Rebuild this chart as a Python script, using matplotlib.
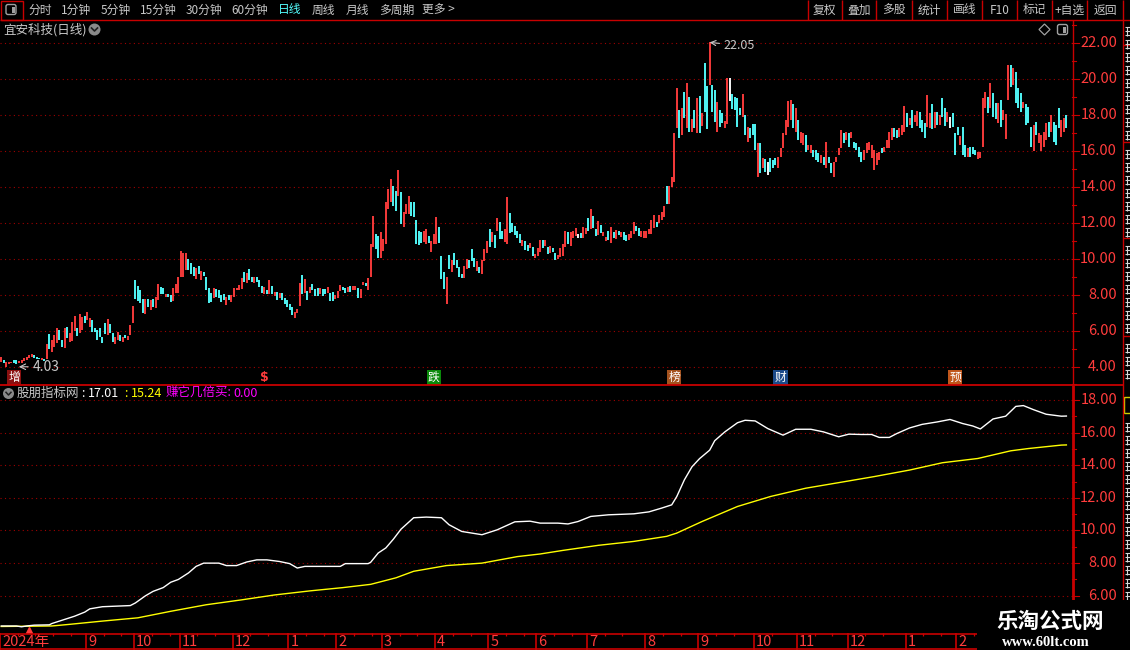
import matplotlib
matplotlib.use("Agg")
import matplotlib.pyplot as plt
from matplotlib import transforms
from matplotlib.patches import Rectangle, FancyBboxPatch, Circle, Polygon

plt.rcParams['font.family'] = ['Noto Sans CJK SC', 'DejaVu Sans']
NUM_FONT = ['Liberation Sans Narrow', 'Noto Sans CJK SC', 'DejaVu Sans']

W, H = 1130, 650
BAR_PX = 2.53  # pixels per trading day

RED = '#ff3c3c'
CYAN = '#54ffff'
AXIS = '#c80000'
GRID = '#a00000'
GRAY = '#c8c8c8'

# ---------------- data ----------------
# daily bars: visible low / high of each bar, sign = up(1) / down(-1) / flat(0)
bar_low = [
    4.30, 4.22, 4.03, 4.19, 4.22, 4.22, 4.20, 4.25, 4.22, 4.35,
    4.41, 4.50, 4.56, 4.50, 4.44, 4.44, 4.41, 4.35, 4.46, 5.00,
    4.87, 5.15, 5.33, 5.52, 5.11, 5.10, 5.61, 5.43, 5.46, 6.04,
    5.76, 5.90, 6.07, 6.48, 6.63, 6.26, 5.94, 5.98, 5.52, 5.70,
    5.37, 5.85, 5.80, 5.93, 5.43, 5.28, 5.52, 5.48, 5.39, 5.61,
    5.52, 5.80, 6.48, 7.80, 7.70, 7.60, 7.00, 6.94, 7.37, 7.20,
    7.37, 7.30, 7.74, 8.07, 8.07, 7.89, 7.91, 7.63, 7.70, 8.15,
    8.15, 9.00, 9.00, 9.40, 9.40, 9.20, 9.07, 8.93, 9.20, 8.87,
    9.07, 8.30, 7.55, 7.63, 7.85, 7.91, 7.85, 7.65, 7.74, 7.48,
    7.76, 7.63, 7.91, 8.30, 8.28, 8.37, 8.74, 8.70, 8.83, 8.74,
    8.70, 8.74, 8.46, 8.11, 8.07, 8.07, 8.07, 8.07, 7.98, 7.74,
    7.87, 7.74, 7.50, 7.37, 7.20, 6.91, 6.76, 7.00, 7.43, 8.07,
    8.15, 7.74, 8.11, 8.30, 7.98, 7.94, 8.07, 7.98, 8.07, 8.11,
    7.70, 7.67, 7.80, 7.85, 8.24, 8.28, 8.15, 8.20, 8.20, 8.28,
    8.28, 7.87, 7.87, 8.59, 8.50, 8.30, 9.00, 10.70, 10.60, 10.10,
    10.10, 10.46, 10.87, 12.80, 13.20, 12.96, 12.70, 13.50, 11.95, 11.80,
    12.50, 12.50, 12.40, 12.35, 10.87, 10.80, 10.93, 10.98, 10.83, 10.93,
    10.40, 10.87, 10.87, 10.93, 8.90, 8.33, 7.50, 9.44, 9.31, 9.69,
    9.50, 9.00, 8.94, 8.94, 9.44, 9.54, 9.90, 9.57, 9.35, 9.26,
    9.17, 9.90, 10.37, 10.70, 10.98, 10.65, 11.57, 11.11, 11.11, 10.96,
    10.87, 11.48, 11.54, 11.35, 11.17, 10.93, 10.74, 10.50, 10.46, 10.61,
    10.19, 10.10, 10.19, 10.43, 10.61, 10.74, 10.28, 10.35, 10.43, 9.96,
    10.04, 10.13, 10.20, 10.70, 10.87, 10.74, 11.17, 11.30, 11.17, 11.17,
    11.20, 11.43, 11.57, 11.70, 11.76, 11.30, 11.35, 11.48, 11.30, 11.00,
    11.07, 10.93, 11.20, 11.15, 11.35, 11.24, 11.07, 11.00, 11.07, 11.17,
    11.43, 11.57, 11.30, 11.26, 11.17, 11.20, 11.43, 11.43, 11.76, 11.81,
    12.04, 12.17, 12.35, 13.10, 13.10, 14.00, 14.30, 17.30, 16.76, 16.90,
    17.83, 17.30, 17.10, 17.10, 17.28, 17.00, 17.00, 17.43, 18.20, 17.24,
    19.70, 18.17, 17.65, 17.10, 17.37, 17.56, 17.28, 17.50, 18.80, 18.35,
    18.30, 17.37, 18.00, 17.93, 16.90, 16.54, 16.72, 16.90, 16.07, 14.60,
    14.78, 15.06, 14.87, 14.69, 14.87, 15.06, 15.24, 15.06, 15.70, 16.17,
    16.90, 17.37, 17.74, 17.28, 17.10, 16.63, 16.44, 16.35, 15.94, 16.07,
    15.89, 15.70, 15.52, 15.43, 15.33, 15.24, 15.05, 15.33, 14.78, 14.55,
    15.39, 15.80, 16.17, 16.44, 16.63, 16.26, 16.72, 16.17, 16.07, 15.70,
    15.39, 15.52, 15.89, 16.07, 15.61, 14.96, 15.24, 15.52, 15.89, 15.98,
    16.20, 16.17, 16.63, 16.81, 16.72, 16.81, 16.90, 17.10, 17.37, 17.46,
    17.28, 17.65, 17.43, 17.28, 17.09, 16.76, 17.37, 17.28, 17.24, 17.28,
    17.46, 17.46, 17.93, 17.43, 17.65, 17.28, 17.37, 15.80, 16.91, 16.35,
    15.80, 15.70, 15.70, 15.70, 15.83, 15.80, 15.60, 15.63, 16.26, 18.40,
    18.11, 18.40, 17.93, 17.80, 17.56, 17.37, 17.74, 16.70, 18.85, 19.60,
    19.69, 18.67, 18.40, 18.20, 18.39, 17.46, 17.56, 16.26, 16.00, 16.91,
    16.44, 16.00, 16.26, 16.63, 16.81, 17.09, 16.54, 16.35, 17.30, 16.81,
    17.09, 17.28,
]
bar_high = [
    4.60, 4.40, 4.28, 4.31, 4.31, 4.41, 4.41, 4.35, 4.41, 4.50,
    4.59, 4.69, 4.74, 4.69, 4.59, 4.54, 4.50, 4.46, 5.30, 5.85,
    5.52, 5.80, 6.17, 6.07, 5.52, 6.17, 6.26, 5.89, 6.54, 6.85,
    6.17, 6.96, 6.78, 6.85, 7.09, 6.74, 6.63, 6.17, 6.07, 6.17,
    5.70, 6.44, 6.67, 6.41, 5.89, 5.70, 5.94, 5.80, 5.70, 5.80,
    5.76, 6.35, 7.40, 8.85, 8.54, 8.30, 7.78, 7.78, 7.78, 7.74,
    7.78, 7.93, 8.63, 8.48, 8.43, 8.07, 8.10, 8.02, 8.40, 8.63,
    9.00, 10.48, 10.37, 10.37, 10.02, 9.80, 9.57, 9.50, 9.63, 9.33,
    9.28, 9.00, 8.40, 8.15, 8.39, 8.33, 8.30, 8.00, 8.07, 7.93,
    8.00, 8.00, 8.39, 8.43, 8.57, 8.94, 9.30, 9.24, 9.44, 9.00,
    9.00, 9.04, 8.87, 8.54, 8.48, 8.30, 8.83, 8.54, 8.17, 8.17,
    8.11, 8.15, 7.87, 7.74, 7.52, 7.37, 7.09, 7.22, 8.67, 9.15,
    8.89, 8.22, 8.48, 8.63, 8.33, 8.39, 8.39, 8.33, 8.33, 8.48,
    8.11, 8.17, 8.00, 8.26, 8.56, 8.48, 8.39, 8.48, 8.52, 8.52,
    8.52, 8.39, 8.35, 8.76, 8.70, 8.95, 10.85, 12.40, 11.40, 11.30,
    11.54, 11.15, 13.20, 13.93, 14.44, 14.07, 13.80, 14.96, 13.74, 12.63,
    13.10, 13.50, 13.20, 13.19, 12.20, 11.60, 11.54, 11.57, 11.67, 11.30,
    11.00, 11.43, 12.35, 11.80, 10.20, 9.30, 9.00, 10.24, 9.98, 10.35,
    9.94, 9.55, 9.20, 9.63, 10.00, 9.94, 10.55, 10.09, 9.90, 9.57,
    9.96, 10.60, 11.02, 11.67, 11.52, 11.35, 12.28, 12.07, 11.57, 11.70,
    13.46, 12.55, 12.00, 11.85, 11.57, 11.39, 11.07, 11.00, 10.80, 10.89,
    10.69, 10.30, 10.61, 11.07, 11.07, 11.07, 10.69, 10.74, 10.65, 10.33,
    10.24, 10.63, 10.87, 11.57, 11.54, 11.52, 11.57, 11.76, 11.43, 11.44,
    11.80, 11.76, 12.30, 12.80, 12.41, 11.70, 12.13, 11.90, 11.54, 11.24,
    11.60, 11.80, 11.54, 11.63, 11.57, 11.52, 11.52, 11.35, 11.43, 11.60,
    12.07, 11.85, 11.76, 11.57, 11.57, 11.57, 11.67, 12.17, 12.46, 12.07,
    12.46, 12.65, 12.96, 14.10, 14.07, 14.60, 17.00, 19.54, 18.30, 18.40,
    19.30, 19.80, 19.00, 17.80, 18.30, 18.94, 19.10, 18.15, 20.90, 19.65,
    22.05, 19.70, 19.40, 18.76, 18.30, 18.11, 17.69, 20.06, 20.06, 19.20,
    19.04, 18.94, 18.39, 19.17, 18.00, 17.37, 17.31, 17.50, 17.50, 16.44,
    16.44, 15.61, 15.60, 15.43, 15.61, 15.52, 15.61, 15.70, 16.17, 17.00,
    17.74, 18.80, 18.85, 18.61, 18.39, 17.74, 17.09, 17.00, 16.90, 16.35,
    16.35, 16.07, 16.07, 15.89, 15.80, 15.70, 16.50, 15.70, 15.33, 15.42,
    15.70, 16.17, 17.20, 17.00, 17.06, 17.00, 17.09, 16.54, 16.44, 16.26,
    15.98, 16.07, 16.44, 16.54, 16.35, 16.07, 15.89, 15.98, 16.17, 16.26,
    16.63, 17.09, 17.28, 17.28, 17.19, 17.28, 17.46, 18.50, 18.11, 17.83,
    18.30, 18.00, 18.24, 18.20, 17.74, 17.56, 19.13, 18.15, 18.61, 18.20,
    18.20, 18.02, 18.94, 18.39, 18.20, 17.93, 18.15, 17.00, 17.37, 16.87,
    17.37, 16.35, 16.17, 16.26, 16.26, 16.07, 15.96, 15.96, 18.94, 19.30,
    19.04, 19.80, 19.22, 18.67, 18.67, 18.85, 18.30, 18.10, 20.80, 20.80,
    20.61, 20.43, 19.50, 19.22, 18.76, 18.61, 18.48, 17.37, 17.46, 17.65,
    17.00, 16.90, 17.09, 17.56, 17.65, 18.02, 17.65, 17.46, 18.40, 17.74,
    17.83, 18.02,
]
bar_sign = [
    1, -1, 1, 1, 1, -1, -1, 1, 1, 1,
    1, 1, 1, -1, -1, -1, 1, -1, 1, -1,
    1, 1, 1, -1, -1, 1, -1, 1, 1, 1,
    -1, 1, 1, -1, 1, 1, -1, -1, -1, -1,
    -1, -1, 1, -1, -1, 1, 1, -1, 1, -1,
    1, 1, 1, -1, -1, -1, -1, 1, -1, 1,
    -1, 1, 1, -1, -1, 1, -1, -1, 1, 1,
    1, 1, 1, 1, -1, -1, -1, 1, -1, 1,
    -1, -1, -1, -1, 1, -1, -1, -1, -1, 1,
    -1, 1, 1, 1, 1, 1, -1, 1, -1, -1,
    1, -1, -1, -1, 1, -1, 1, -1, 1, -1,
    1, -1, -1, -1, -1, -1, 1, 1, 1, -1,
    1, -1, 1, -1, -1, -1, 1, -1, -1, 1,
    -1, -1, 1, 1, 1, -1, -1, 1, -1, 1,
    1, -1, 1, 1, -1, 1, 1, 1, -1, -1,
    1, 1, 1, 1, 1, -1, -1, 1, -1, 1,
    1, 1, -1, -1, -1, -1, -1, 1, 1, -1,
    1, 1, 1, -1, -1, -1, 1, -1, 1, -1,
    -1, -1, -1, 1, 1, -1, -1, -1, 1, -1,
    1, 1, 1, -1, 1, -1, 1, -1, -1, 1,
    1, -1, -1, -1, -1, -1, 1, -1, -1, 1,
    -1, 1, 1, 1, -1, 1, -1, 1, -1, -1,
    1, 1, 1, 1, -1, 1, 1, 1, 0, -1,
    1, 1, -1, 1, -1, -1, 1, -1, 1, 1,
    -1, 1, -1, 1, -1, 1, -1, -1, 1, 1,
    1, -1, -1, 1, 1, 1, 1, 1, 1, -1,
    1, 1, 1, -1, 1, 1, 1, 1, -1, 1,
    -1, 1, -1, 1, -1, 1, -1, 1, -1, -1,
    1, -1, -1, 1, -1, -1, 1, 1, 0, -1,
    -1, -1, -1, 1, -1, 1, -1, -1, -1, 1,
    -1, 1, -1, 0, -1, -1, -1, 1, 1, 1,
    1, 1, 1, -1, 1, -1, 1, 1, -1, 1,
    1, -1, -1, -1, 1, -1, 1, -1, -1, 1,
    1, 1, 1, -1, 1, -1, 1, -1, -1, -1,
    -1, 1, 1, 1, 1, 1, 1, 1, -1, 1,
    1, 1, 1, -1, -1, 1, 1, 1, -1, 1,
    -1, 1, 1, -1, -1, -1, 1, 1, -1, 1,
    -1, 1, -1, -1, 1, 0, -1, -1, -1, 1,
    -1, -1, 1, -1, -1, -1, 1, 1, 1, 1,
    -1, 1, -1, -1, 1, -1, 1, 1, 1, -1,
    1, -1, -1, -1, 1, -1, -1, -1, 1, -1,
    1, 1, 1, 1, -1, 1, -1, -1, -1, 1,
    1, -1,
]

# month boundaries (bar index of first trading day) and their labels
month_starts = [34, 53, 71, 92, 114, 133, 151, 172, 193, 212, 232, 255,
                276, 298, 315, 335, 358, 378]
month_labels = ['9', '10', '11', '12', '1', '2', '3', '4', '5', '6', '7', '8',
                '9', '10', '11', '12', '1', '2']
first_label = '2024年'

# indicator panel: white line (股朋指标网) and yellow line, sampled by bar index
white_idx = [0, 6, 8, 10, 13, 19, 20, 24, 29, 33, 35, 40, 51, 53, 57, 60, 64, 67, 70, 74,
             77, 80, 86, 89, 93, 97, 101, 105, 110, 114, 117, 120, 134, 136, 145, 146, 149, 152, 155, 158,
             163, 168, 174, 177, 182, 190, 196, 203, 209, 213, 220, 224, 228, 233, 240, 250, 256, 261, 265, 267,
             270, 273, 276, 280, 282, 286, 291, 294, 298, 303, 309, 314, 320, 325, 331, 335, 340, 344, 347, 351,
             354, 359, 364, 370, 375, 380, 384, 387, 392, 397, 401, 404, 408, 413, 419, 421]
white_vals = [4.15, 4.15, 4.10, 4.15, 4.20, 4.22, 4.30, 4.50, 4.75, 5.00, 5.20, 5.33, 5.40, 5.56, 6.00, 6.27, 6.50, 6.83, 7.00, 7.40,
              7.80, 8.00, 8.00, 7.85, 7.85, 8.07, 8.20, 8.20, 8.10, 7.97, 7.70, 7.80, 7.80, 7.97, 7.97, 8.05, 8.62, 8.93, 9.47, 10.08,
              10.78, 10.82, 10.78, 10.35, 9.94, 9.74, 10.04, 10.53, 10.57, 10.45, 10.45, 10.40, 10.55, 10.86, 10.96, 11.02, 11.14, 11.37, 11.57, 12.08,
              13.10, 13.90, 14.40, 14.92, 15.50, 16.04, 16.60, 16.75, 16.71, 16.24, 15.84, 16.20, 16.20, 16.04, 15.74, 15.90, 15.88, 15.88, 15.70, 15.70,
              15.94, 16.28, 16.50, 16.65, 16.80, 16.55, 16.40, 16.22, 16.83, 17.00, 17.60, 17.65, 17.40, 17.12, 17.00, 17.01]
yellow_idx = [0, 20, 27, 40, 54, 67, 81, 95, 108, 122, 135, 146, 156, 163, 176, 190, 204, 213,
              222, 236, 250, 263, 267, 277, 291, 304, 318, 331, 345, 359, 372, 386, 399, 406, 419, 421]
yellow_vals = [4.12, 4.15, 4.25, 4.45, 4.65, 5.05, 5.45, 5.75, 6.05, 6.30, 6.50, 6.70, 7.10, 7.50, 7.85, 8.00, 8.40, 8.56,
               8.78, 9.09, 9.33, 9.64, 9.84, 10.55, 11.47, 12.08, 12.59, 12.93, 13.30, 13.70, 14.15, 14.41, 14.88, 15.02, 15.23, 15.24]

# event tags under the price chart
event_idx = [5, 104, 171, 266, 308, 377]
event_text = ['增', '$', '跌', '榜', '财', '预']
event_bg = ['#8a1010', None, '#0a8a0a', '#a4521e', '#1c4a8a', '#c0561b']
signal_idx = [11]

price_ticks = [4, 6, 8, 10, 12, 14, 16, 18, 20, 22]
ind_ticks = [6, 8, 10, 12, 14, 16, 18]

toolbar_left = ['分时', '1分钟', '5分钟', '15分钟', '30分钟', '60分钟', '日线', '周线', '月线', '多周期', '更多 >']
toolbar_right = ['复权', '叠加', '多股', '统计', '画线', 'F10', '标记', '+自选', '返回']

# ---------------- figure ----------------
fig = plt.figure(figsize=(W / 100, H / 100), dpi=100, facecolor='black')


def px_axes(x0, y0, x1, y1):
    a = fig.add_axes([x0 / W, 1 - y1 / H, (x1 - x0) / W, (y1 - y0) / H])
    a.set_facecolor('black')
    a.axis('off')
    return a


xlim = (-0.5, -0.5 + 1072 / BAR_PX)
ax_p = px_axes(0, 21, 1072, 385)
ax_i = px_axes(0, 386, 1072, 633)
ax_t = px_axes(0, 633, 1072, 650)
for a in (ax_p, ax_i, ax_t):
    a.set_xlim(*xlim)
ax_p.set_ylim(3.017, 23.239)
ax_i.set_ylim(3.72, 18.85)
ax_t.set_ylim(1, 0)

# price panel
ax_p.hlines(price_ticks, xlim[0], xlim[1], colors=GRID, linestyles=(0, (1, 3)), lw=0.8)
idx = list(range(len(bar_low)))
colors = [RED if s > 0 else (CYAN if s < 0 else 'white') for s in bar_sign]
ax_p.vlines(idx, bar_low, bar_high, colors=colors, lw=1.35)

hi_i = bar_high.index(max(bar_high))
lo_i = bar_low.index(min(bar_low))
ax_p.annotate(f'{bar_high[hi_i]:.2f}', xy=(hi_i, bar_high[hi_i]), xytext=(14, -3),
              textcoords='offset pixels', color=GRAY, fontsize=9, va='center', family=NUM_FONT,
              arrowprops=dict(arrowstyle='->', color=GRAY, lw=0.8, shrinkA=1, shrinkB=0))
ax_p.annotate(f'{bar_low[lo_i]:.2f}', xy=(lo_i, bar_low[lo_i]), xytext=(26, 0),
              textcoords='offset pixels', color=GRAY, fontsize=10, va='center', family=NUM_FONT,
              arrowprops=dict(arrowstyle='->', color=GRAY, lw=0.8, shrinkA=1, shrinkB=9))

tx = ax_p.get_xaxis_transform()
for i, t, bg in zip(event_idx, event_text, event_bg):
    if bg is None:
        ax_p.text(i, 0.02, t, transform=tx, ha='center', va='center', color=RED,
                  fontsize=9, fontweight='bold', family=['DejaVu Sans'])
    else:
        ax_p.text(i, 0.02, t, transform=tx, ha='center', va='center', color='white', fontsize=8.5,
                  bbox=dict(boxstyle='square,pad=0.1', fc=bg, ec='none'))

# indicator panel
ax_i.hlines(ind_ticks, xlim[0], xlim[1], colors=GRID, linestyles=(0, (1, 3)), lw=0.8)
ax_i.plot(yellow_idx, yellow_vals, color='#ffff00', lw=1.0)
ax_i.plot(white_idx, white_vals, color='white', lw=1.0)
ax_i.plot(signal_idx, [0.012] * len(signal_idx), transform=ax_i.get_xaxis_transform(),
          marker='^', color=RED, ms=5, ls='none', clip_on=False)

# right-hand price scales
for a, ticks in ((ax_p, price_ticks), (ax_i, ind_ticks)):
    ty = a.get_yaxis_transform()
    for v in ticks:
        a.text(1117 / 1072, v, f'{v:.2f}', transform=ty, ha='right', va='center',
               color=RED, fontsize=10.5, family=NUM_FONT, clip_on=False)
        a.plot([1, 1079 / 1072], [v, v], transform=ty, color=AXIS, lw=0.8, clip_on=False)
        a.plot([1, 1076 / 1072], [v + 1, v + 1], transform=ty, color=AXIS, lw=0.8, clip_on=False)

# time axis
seps = [-0.5] + [m - 0.5 for m in month_starts]
ax_t.hlines([0.04, 0.97], xlim[0], xlim[1], colors=AXIS, lw=1.2)
ax_t.vlines(seps, 0, 1, colors=AXIS, lw=1.2)
bounds = seps + [xlim[1]]
for a0, a1 in zip(bounds[:-1], bounds[1:]):
    k = a0 + 7
    while k < a1 - 3:
        ax_t.vlines(k, 0, 0.2, colors=AXIS, lw=0.9)
        k += 7
lab_tr = transforms.offset_copy(ax_t.transData, fig=fig, x=2, y=0, units='dots')
for s, lab in zip(seps, [first_label] + month_labels):
    ax_t.text(s, 0.55, lab, transform=lab_tr, ha='left', va='center', color=RED,
              fontsize=10.5, family=NUM_FONT)

# ---------------- screen chrome (pixel coordinates) ----------------
ax_bg = fig.add_axes([0, 0, 1, 1])
ax_bg.set_xlim(0, W)
ax_bg.set_ylim(H, 0)
ax_bg.axis('off')

ax_bg.hlines(20, 0, W, colors=AXIS, lw=1.0)
ax_bg.add_patch(Rectangle((0.5, 0.5), 22, 19.5, fill=False, ec=AXIS, lw=1.0))
ax_bg.add_patch(FancyBboxPatch((6, 4.5), 10, 10, boxstyle='round,pad=0,rounding_size=2',
                               fill=False, ec='#a0a0a0', lw=1.0))
ax_bg.add_patch(Rectangle((11.5, 6.5), 3, 6, fc='#a0a0a0', ec='none'))
left_x = [28, 61, 101, 140, 186, 231, 278, 312, 346, 379, 422]
for x, t in zip(left_x, toolbar_left):
    ax_bg.text(x, 10, t, ha='left', va='center', fontsize=8.5,
               color=CYAN if t == '日线' else GRAY)
right_sep = [807.7, 841.7, 876.3, 911.7, 946.7, 981.7, 1016.7, 1051.7, 1086.7, 1123.3]
ax_bg.vlines(right_sep, 0, 20, colors=AXIS, lw=1.0)
for x0, x1, t in zip(right_sep[:-1], right_sep[1:], toolbar_right):
    ax_bg.text((x0 + x1) / 2, 10, t, ha='center', va='center', fontsize=8.5, color=GRAY)

# title row
ax_bg.text(3, 29.5, '宜安科技(日线)', ha='left', va='center', fontsize=9, color=GRAY)
ax_bg.add_patch(Circle((94.5, 29.5), 6, fc='#8a8a8a', ec='none'))
ax_bg.plot([91.5, 94.5, 97.5], [28, 31, 28], color='#202020', lw=1.2)
ax_bg.add_patch(Polygon([(1044.5, 24), (1050, 29.5), (1044.5, 35), (1039, 29.5)],
                        closed=True, fill=False, ec='#a0a0a0', lw=0.9))
ax_bg.add_patch(FancyBboxPatch((1057.5, 24.5), 10, 10, boxstyle='round,pad=0,rounding_size=2',
                               fill=False, ec='#a0a0a0', lw=1.0))
ax_bg.add_patch(Rectangle((1063, 26.5), 3, 6, fc='#a0a0a0', ec='none'))

# frame lines
ax_bg.vlines(1072.5, 20, 385, colors=AXIS, lw=1.0)
ax_bg.vlines(1073, 385, 600, colors=AXIS, lw=2.0)
ax_bg.hlines(385, 0, 1123, colors=AXIS, lw=1.3)
ax_bg.vlines(1123.3, 20, 600, colors=AXIS, lw=1.0)
ax_bg.hlines([45, 142, 238, 336], 1123, W, colors=AXIS, lw=1.0)
# cut-off tab labels at the right edge, drawn as glyph fragments
for y0, y1 in ((24, 140), (147, 236), (243, 334), (341, 382), (420, 598)):
    y = y0 + 3
    while y < y1 - 4:
        ax_bg.hlines([y, y + 4, y + 8], 1125, W, colors='#d8d8d8', lw=0.8)
        ax_bg.vlines(1127, y, y + 9, colors='#d8d8d8', lw=0.8)
        y += 13
ax_bg.add_patch(Rectangle((1124, 397), 8, 16, fill=False, ec='#d0d000', lw=1.0))

# indicator header
ax_bg.add_patch(Circle((8.5, 393.5), 5.5, fc='#8a8a8a', ec='none'))
ax_bg.plot([6, 8.5, 11], [392.3, 395, 392.3], color='#202020', lw=1.1)
ax_bg.text(17, 393.5, '股朋指标网', ha='left', va='center', fontsize=9, color=GRAY)
ax_bg.text(81, 393.5, ':', ha='left', va='center', fontsize=9, color='white')
ax_bg.text(88, 393.5, f'{white_vals[-1]:.2f}', ha='left', va='center', fontsize=9, color='white')
ax_bg.text(124, 393.5, ':', ha='left', va='center', fontsize=9, color='#ffff00')
ax_bg.text(131, 393.5, f'{yellow_vals[-1]:.2f}', ha='left', va='center', fontsize=9, color='#ffff00')
ax_bg.text(166, 393.5, '赚它几倍买:', ha='left', va='center', fontsize=9, color='#ff00ff')
ax_bg.text(233, 393.5, '0.00', ha='left', va='center', fontsize=9, color='#ff00ff')

# watermark
ax_bg.add_patch(Rectangle((977, 600), W - 977, 50, fc='black', ec='none', zorder=5))
ax_bg.text(1050, 621, '乐淘公式网', ha='center', va='center', fontsize=15.5,
           fontweight='bold', color='white', zorder=6)
ax_bg.text(1046, 643, 'www.60lt.com', ha='center', va='center', fontsize=10.5,
           fontweight='bold', color='white', family=['Liberation Serif', 'DejaVu Serif'], zorder=6)

fig.savefig('out.png', dpi=100, facecolor='black')
